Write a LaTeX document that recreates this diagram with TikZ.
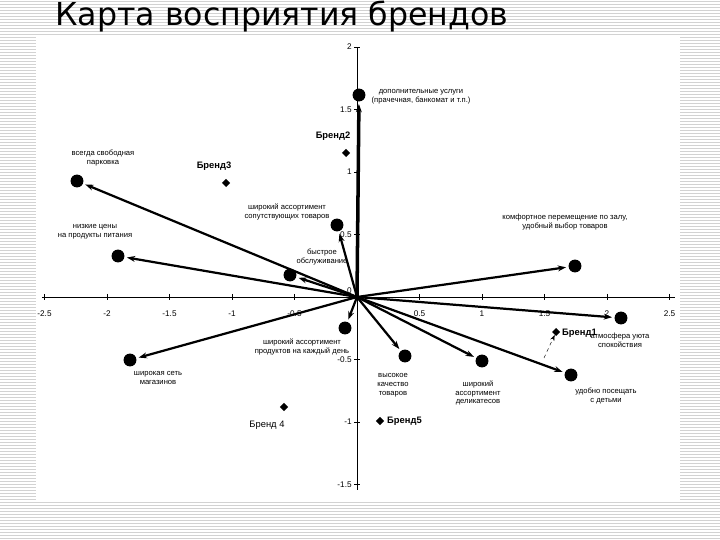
\documentclass[tikz,border=0pt]{standalone}
\usepackage{fontspec}
\setmainfont{Liberation Sans}
\newfontfamily\titlefont{DejaVu Sans}
\usetikzlibrary{arrows.meta,shapes.geometric}
\begin{document}
\begin{tikzpicture}[x=0.03cm,y=-0.03cm,
  dot/.style={circle,fill=black,inner sep=0pt,minimum size=11},
  brand/.style={diamond,fill=black,inner sep=0pt,minimum size=7},
  lbl/.style={font=\fontsize{6.5}{7.5}\selectfont,align=center,inner sep=0pt},
  blbl/.style={font=\fontsize{8}{9}\selectfont\bfseries,inner sep=0pt},
  vec/.style={draw=black,line width=1.9pt,-{Stealth[length=7pt,width=5pt]},shorten >=2pt},
  tick/.style={font=\fontsize{7}{8}\selectfont,inner sep=1pt}]
\useasboundingbox (0,0) rectangle (720,540);
\fill[white] (0,0) rectangle (720,540);
\foreach \yy in {1,4,...,540} \draw[gray!35,line width=0.4pt] (0,\yy) -- (720,\yy);
\fill[white] (36,36) rectangle (680,500);
\node[anchor=west,font=\titlefont\fontsize{27}{30}\selectfont,inner sep=0pt] (title) at (55,17) {Карта восприятия брендов};
% axes
\coordinate (o) at (357,297);
\draw[line width=0.8pt] (42,297) -- (675,297);
\draw[line width=0.8pt] (357,48) -- (357,490);
\foreach \i/\t in {-2.5/-2.5,-2/-2,-1.5/-1.5,-1/-1,-0.5/-0.5,0.5/0.5,1/1,1.5/1.5,2/2,2.5/2.5}
  {\draw (357+125*\i,294) -- (357+125*\i,300); \node[tick] at (357+125*\i,314) {\t};}
\foreach \i/\t in {2/2,1.5/1.5,1/1,0.5/0.5,-0.5/-0.5,-1/-1,-1.5/-1.5}
  {\draw (354,297-125*\i) -- (360,297-125*\i); \node[tick,anchor=east] at (353,297-125*\i) {\t};}
\node[tick,anchor=east] at (353,291) {0};
% attribute points
\node[dot] (p1) at (359,95) {};
\node[dot] (p2) at (77,181) {};
\node[dot] (p3) at (337,225) {};
\node[dot] (p4) at (118,256) {};
\node[dot] (p5) at (290,275) {};
\node[dot] (p6) at (575,266) {};
\node[dot] (p7) at (621,318) {};
\node[dot] (p8) at (571,375) {};
\node[dot] (p9) at (482,361) {};
\node[dot] (p10) at (405,356) {};
\node[dot] (p11) at (345,328) {};
\node[dot] (p12) at (130,360) {};
\foreach \p in {p2,p3,p4,p5,p6,p7,p8,p9,p10,p11,p12} \draw[vec] (o) -- (\p);
\draw[vec,line width=3pt] (o) -- (p1);
% labels
\node[lbl] (l1) at (421,97) {дополнительные услуги\\(прачечная, банкомат и т.п.)};
\node[lbl] (l2) at (103,158) {всегда свободная\\парковка};
\node[lbl] (l3) at (287,212) {широкий ассортимент\\сопутствующих товаров};
\node[lbl] (l4) at (95,232) {низкие цены\\на продукты питания};
\node[lbl] (l5) at (322,257) {быстрое\\обслуживание};
\node[lbl] (l6) at (565,222) {комфортное перемещение по залу,\\удобный выбор товаров};
\node[lbl] (l7) at (620,340) {атмосфера уюта\\спокойствия};
\node[lbl] (l8) at (606,396) {удобно посещать\\с детьми};
\node[lbl] (l9) at (478,393) {широкий\\ассортимент\\деликатесов};
\node[lbl] (l10) at (393,385) {высокое\\качество\\товаров};
\node[lbl] (l11) at (302,347) {широкий ассортимент\\продуктов на каждый день};
\node[lbl] (l12) at (158,378) {широкая сеть\\магазинов};
% brands
\node[brand] (b1) at (556,332) {};
\node[blbl,anchor=west] (lb1) at (562,333) {Бренд1};
\node[brand] (b2) at (346,153) {};
\node[blbl] (lb2) at (333,136) {Бренд2};
\node[brand] (b3) at (226,183) {};
\node[blbl] (lb3) at (214,166) {Бренд3};
\node[brand] (b4) at (284,407) {};
\node[font=\fontsize{8}{9}\selectfont,inner sep=0pt] (lb4) at (267,425) {Бренд 4};
\node[brand] (b5) at (380,421) {};
\node[blbl,anchor=west] (lb5) at (387,421) {Бренд5};
\coordinate (c1) at (544,358);
\draw[dashed,-{Stealth[length=5pt]}] (c1) -- (b1);
\end{tikzpicture}
\end{document}
